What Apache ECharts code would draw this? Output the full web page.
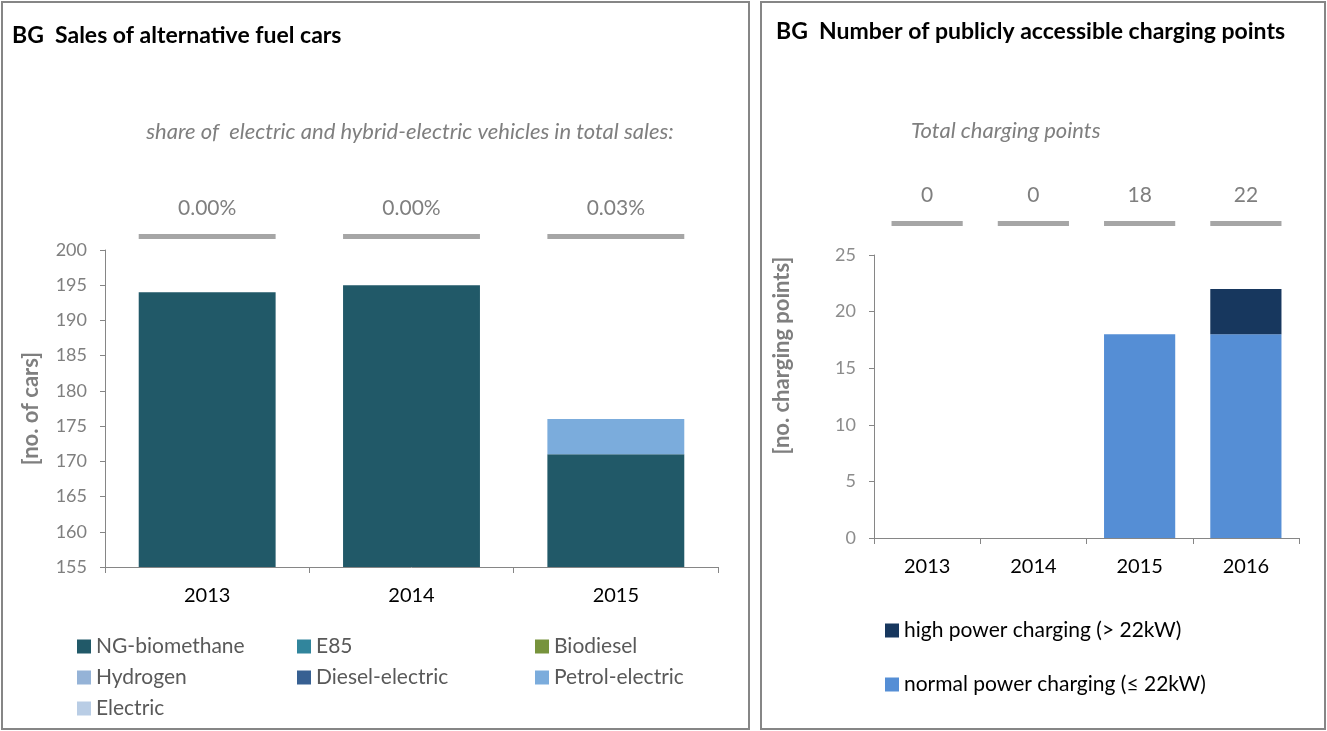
<!DOCTYPE html>
<html>
<head>
<meta charset="utf-8">
<script src="https://cdn.jsdelivr.net/npm/echarts@6/dist/echarts.min.js"></script>
<style>
html,body{margin:0;padding:0;background:#fff;}
#chart{width:1327px;height:731px;}
</style>
</head>
<body>
<div id="chart"></div>
<script>
// ---- Left chart data: sales of alternative fuel cars ----
const salesYears = ['2013', '2014', '2015'];
const ngBiomethane = [194, 195, 171];
const e85 = [0, 0, 0];
const biodiesel = [0, 0, 0];
const hydrogen = [0, 0, 0];
const dieselElectric = [0, 0, 0];
const petrolElectric = [0, 0, 5];
const electric = [0, 0, 0];
const shareLabels = ['0.00%', '0.00%', '0.03%'];
const salesTicks = { min: 155, max: 200, interval: 5 };

// ---- Right chart data: charging points ----
const chargeYears = ['2013', '2014', '2015', '2016'];
const normalPower = [0, 0, 18, 18];
const highPower = [0, 0, 0, 4];
const chargeTotals = chargeYears.map((_, i) => normalPower[i] + highPower[i]);
const chargeTicks = { min: 0, max: 25, interval: 5 };

const FONT = 'Lato, "Open Sans", sans-serif';
const GRAY = '#7f7f7f';
const AXIS = '#868686';

function stripRender(labels, color) {
  return function (params, api) {
    const idx = api.value(0);
    const p = api.coord([idx, 0]);
    const w = api.size([1, 0])[0] * 0.67;
    return {
      type: 'group',
      children: [
        { type: 'rect', shape: { x: p[0] - w / 2, y: p[1] - 6, width: w, height: 5 }, style: { fill: '#a6a6a6' } },
        { type: 'text', x: p[0], y: p[1] - 32,
          style: { text: String(labels[params.dataIndex]), fill: color, font: '21px ' + FONT, align: 'center', verticalAlign: 'middle' } }
      ]
    };
  };
}

const chart = echarts.init(document.getElementById('chart'));

const legendTextLeft = { color: '#595959', fontSize: 21, fontFamily: FONT };

function salesBar(name, data, color) {
  return { name, type: 'bar', stack: 'sales', xAxisIndex: 0, yAxisIndex: 0, data,
    barWidth: '67%', itemStyle: { color }, emphasis: { disabled: true } };
}

const option = {
  animation: false,
  textStyle: { fontFamily: FONT },
  title: [
    { text: 'BG  Sales of alternative fuel cars', left: 7, top: 19,
      textStyle: { fontSize: 23, fontWeight: 'bold', color: '#000', fontFamily: FONT } },
    { text: 'share of  electric and hybrid-electric vehicles in total sales:', left: 405, textAlign: 'center', top: 116,
      textStyle: { fontSize: 22, fontStyle: 'italic', fontWeight: 'normal', color: GRAY, fontFamily: FONT } },
    { text: 'BG  Number of publicly accessible charging points', left: 771, top: 15,
      textStyle: { fontSize: 23, fontWeight: 'bold', color: '#000', fontFamily: FONT } },
    { text: 'Total charging points', left: 906, top: 115,
      textStyle: { fontSize: 22, fontStyle: 'italic', fontWeight: 'normal', color: GRAY, fontFamily: FONT } }
  ],
  graphic: [
    { type: 'rect', shape: { x: 2, y: 2, width: 747, height: 727 }, style: { fill: 'none', stroke: '#868686', lineWidth: 2 }, silent: true },
    { type: 'rect', shape: { x: 761, y: 2, width: 564, height: 727 }, style: { fill: 'none', stroke: '#868686', lineWidth: 2 }, silent: true }
  ],
  legend: [
    { orient: 'vertical', left: 72, top: 631, itemWidth: 14, itemHeight: 14, itemGap: 10, icon: 'rect',
      data: ['NG-biomethane', 'Hydrogen', 'Electric'], textStyle: legendTextLeft, selectedMode: false },
    { orient: 'vertical', left: 292, top: 631, itemWidth: 14, itemHeight: 14, itemGap: 10, icon: 'rect',
      data: ['E85', 'Diesel-electric'], textStyle: legendTextLeft, selectedMode: false },
    { orient: 'vertical', left: 530, top: 631, itemWidth: 14, itemHeight: 14, itemGap: 10, icon: 'rect',
      data: ['Biodiesel', 'Petrol-electric'], textStyle: legendTextLeft, selectedMode: false },
    { orient: 'vertical', left: 880, top: 615, itemWidth: 14, itemHeight: 14, itemGap: 33, icon: 'rect',
      data: ['high power charging (> 22kW)', 'normal power charging (≤ 22kW)'],
      textStyle: { color: '#000', fontSize: 21, fontFamily: FONT }, selectedMode: false }
  ],
  grid: [
    { left: 105, right: 609, top: 250, bottom: 164 },
    { left: 105, right: 609, top: 180, height: 60 },
    { left: 874, right: 28, top: 255, bottom: 193 },
    { left: 874, right: 28, top: 170, height: 57 }
  ],
  xAxis: [
    { type: 'category', gridIndex: 0, data: salesYears,
      axisLine: { lineStyle: { color: AXIS } }, axisTick: { show: true, length: 6, lineStyle: { color: AXIS } },
      axisLabel: { color: '#000', fontSize: 20, margin: 19, fontFamily: FONT } },
    { type: 'category', gridIndex: 1, data: salesYears, show: false },
    { type: 'category', gridIndex: 2, data: chargeYears,
      axisLine: { lineStyle: { color: AXIS } }, axisTick: { show: true, length: 6, lineStyle: { color: AXIS } },
      axisLabel: { color: '#000', fontSize: 20, margin: 19, fontFamily: FONT } },
    { type: 'category', gridIndex: 3, data: chargeYears, show: false }
  ],
  yAxis: [
    { type: 'value', gridIndex: 0, min: salesTicks.min, max: salesTicks.max, interval: salesTicks.interval, startValue: salesTicks.min,
      name: '[no. of cars]', nameLocation: 'middle', nameRotate: 90, nameGap: 63,
      nameTextStyle: { color: GRAY, fontSize: 22, fontWeight: 'bold', fontFamily: FONT },
      axisLine: { show: true, lineStyle: { color: AXIS } }, axisTick: { show: true, length: 5, lineStyle: { color: AXIS } },
      splitLine: { show: false },
      axisLabel: { color: GRAY, fontSize: 18, margin: 18, fontFamily: FONT } },
    { type: 'value', gridIndex: 1, min: 0, max: 1, show: false },
    { type: 'value', gridIndex: 2, min: chargeTicks.min, max: chargeTicks.max, interval: chargeTicks.interval,
      name: '[no. charging points]', nameLocation: 'middle', nameRotate: 90, nameGap: 81,
      nameTextStyle: { color: GRAY, fontSize: 22, fontWeight: 'bold', fontFamily: FONT, padding: [0, 0, 0, 82] },
      axisLine: { show: true, lineStyle: { color: AXIS } }, axisTick: { show: true, length: 5, lineStyle: { color: AXIS } },
      splitLine: { show: false },
      axisLabel: { color: '#8c8c8c', fontSize: 18, margin: 18, fontFamily: FONT } },
    { type: 'value', gridIndex: 3, min: 0, max: 1, show: false }
  ],
  series: [
    salesBar('NG-biomethane', ngBiomethane, '#215968'),
    salesBar('E85', e85, '#31859C'),
    salesBar('Biodiesel', biodiesel, '#77933C'),
    salesBar('Hydrogen', hydrogen, '#95B3D7'),
    salesBar('Diesel-electric', dieselElectric, '#376092'),
    salesBar('Petrol-electric', petrolElectric, '#7BACDC'),
    salesBar('Electric', electric, '#B9CDE5'),
    { type: 'custom', xAxisIndex: 1, yAxisIndex: 1, silent: true,
      data: salesYears.map((_, i) => [i, 0]), renderItem: stripRender(shareLabels, GRAY) },
    { name: 'normal power charging (≤ 22kW)', type: 'bar', stack: 'cp', xAxisIndex: 2, yAxisIndex: 2,
      data: normalPower, barWidth: '67%', itemStyle: { color: '#558ED5' } },
    { name: 'high power charging (> 22kW)', type: 'bar', stack: 'cp', xAxisIndex: 2, yAxisIndex: 2,
      data: highPower, barWidth: '67%', itemStyle: { color: '#17375E' } },
    { type: 'custom', xAxisIndex: 3, yAxisIndex: 3, silent: true,
      data: chargeYears.map((_, i) => [i, 0]), renderItem: stripRender(chargeTotals, GRAY) }
  ]
};
chart.setOption(option);
</script>
</body>
</html>
